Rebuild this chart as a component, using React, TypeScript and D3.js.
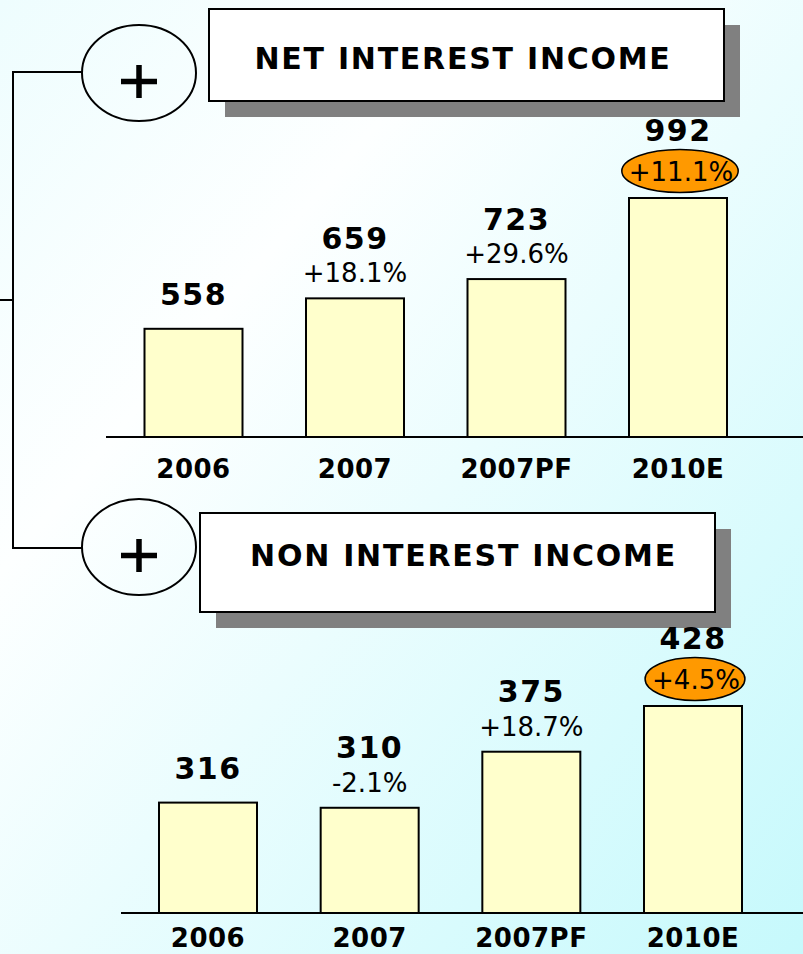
import React, { useEffect, useRef } from "react";
import * as d3 from "d3";

const categories = ["2006", "2007", "2007PF", "2010E"];
const netInterest = [558, 659, 723, 992];
const netGrowth = ["", "+18.1%", "+29.6%", "+11.1%"];
const nonInterest = [316, 310, 375, 428];
const nonGrowth = ["", "-2.1%", "+18.7%", "+4.5%"];
const titles = ["NET INTEREST INCOME", "NON INTEREST INCOME"];
const highlightIndex = 3;

const W = 803;
const H = 954;
const FONT = "'DejaVu Sans', Verdana, sans-serif";

type Panel = {
  title: string;
  values: number[];
  growth: string[];
  box: { x: number; y: number; w: number; h: number; textX: number; textY: number };
  circle: { cx: number; cy: number };
  axisY: number;
  axisX0: number;
  catY: number;
  xRange: [number, number];
  yDomain: [number, number];
  yTop: number;
};

const panels: Panel[] = [
  {
    title: titles[0],
    values: netInterest,
    growth: netGrowth,
    box: { x: 209, y: 9, w: 515, h: 92, textX: 463, textY: 69 },
    circle: { cx: 139, cy: 73 },
    axisY: 437,
    axisX0: 106,
    catY: 477.5,
    xRange: [193.5, 678],
    yDomain: [199, 992],
    yTop: 198,
  },
  {
    title: titles[1],
    values: nonInterest,
    growth: nonGrowth,
    box: { x: 200, y: 513, w: 515, h: 99, textX: 463.5, textY: 566 },
    circle: { cx: 139, cy: 547 },
    axisY: 913,
    axisX0: 121,
    catY: 947,
    xRange: [208, 693],
    yDomain: [188, 428],
    yTop: 706,
  },
];

export default function App() {
  const ref = useRef<SVGSVGElement | null>(null);

  useEffect(() => {
    const svg = d3.select(ref.current);
    svg.selectAll("*").remove();

    const defs = svg.append("defs");
    const grad = defs
      .append("linearGradient")
      .attr("id", "bg")
      .attr("x1", "0")
      .attr("y1", "0")
      .attr("x2", "1")
      .attr("y2", "1");
    grad.append("stop").attr("offset", "0").attr("stop-color", "#eefdfe");
    grad.append("stop").attr("offset", "0.3").attr("stop-color", "#fdffff");
    grad.append("stop").attr("offset", "1").attr("stop-color", "#c6f9fc");

    svg.append("rect").attr("width", W).attr("height", H).attr("fill", "url(#bg)");

    // bracket connector
    const bx = 13;
    const yTopC = panels[0].circle.cy - 1;
    const yBotC = panels[1].circle.cy + 1;
    const bracket = d3.path();
    bracket.moveTo(panels[0].circle.cx - 57, yTopC);
    bracket.lineTo(bx, yTopC);
    bracket.lineTo(bx, yBotC);
    bracket.lineTo(panels[1].circle.cx - 57, yBotC);
    bracket.moveTo(0, 300);
    bracket.lineTo(bx, 300);
    svg
      .append("path")
      .attr("d", bracket.toString())
      .attr("fill", "none")
      .attr("stroke", "#000")
      .attr("stroke-width", 2);

    panels.forEach((p) => {
      const g = svg.append("g");

      // circle with plus
      g.append("ellipse")
        .attr("cx", p.circle.cx)
        .attr("cy", p.circle.cy)
        .attr("rx", 57)
        .attr("ry", 48)
        .attr("fill", "none")
        .attr("stroke", "#000")
        .attr("stroke-width", 2);
      const pcx = p.circle.cx;
      const pcy = p.circle.cy + 8.5;
      g.append("path")
        .attr("d", `M${pcx - 18},${pcy}H${pcx + 18}M${pcx},${pcy - 16.5}V${pcy + 16.5}`)
        .attr("stroke", "#000")
        .attr("stroke-width", 5.5);

      // title box with shadow
      g.append("rect")
        .attr("x", p.box.x + 16)
        .attr("y", p.box.y + 16)
        .attr("width", p.box.w)
        .attr("height", p.box.h)
        .attr("fill", "#808080");
      g.append("rect")
        .attr("x", p.box.x)
        .attr("y", p.box.y)
        .attr("width", p.box.w)
        .attr("height", p.box.h)
        .attr("fill", "#fff")
        .attr("stroke", "#000")
        .attr("stroke-width", 2);
      g.append("text")
        .attr("x", p.box.textX)
        .attr("y", p.box.textY)
        .attr("text-anchor", "middle")
        .attr("font-family", FONT)
        .attr("font-weight", "bold")
        .attr("font-size", 30)
        .attr("letter-spacing", 1.75)
        .attr("fill", "#000")
        .text(p.title);

      const x = d3.scalePoint<string>().domain(categories).range(p.xRange);
      const y = d3.scaleLinear().domain(p.yDomain).range([p.axisY, p.yTop]);
      const bw = 98;

      // bars
      g.selectAll("rect.bar")
        .data(p.values)
        .enter()
        .append("rect")
        .attr("class", "bar")
        .attr("x", (_d, i) => (x(categories[i]) as number) - bw / 2)
        .attr("y", (d) => y(d))
        .attr("width", bw)
        .attr("height", (d) => p.axisY - y(d))
        .attr("fill", "#ffffcc")
        .attr("stroke", "#000")
        .attr("stroke-width", 2);

      // axis line
      g.append("line")
        .attr("x1", p.axisX0)
        .attr("x2", W)
        .attr("y1", p.axisY)
        .attr("y2", p.axisY)
        .attr("stroke", "#000")
        .attr("stroke-width", 2);

      // category labels
      g.selectAll("text.cat")
        .data(categories)
        .enter()
        .append("text")
        .attr("class", "cat")
        .attr("x", (d) => x(d) as number)
        .attr("y", p.catY)
        .attr("text-anchor", "middle")
        .attr("font-family", FONT)
        .attr("font-weight", "bold")
        .attr("font-size", 26)
        .attr("letter-spacing", 0.5)
        .attr("fill", "#000")
        .text((d) => d);

      // value + growth labels
      p.values.forEach((v, i) => {
        const cx = x(categories[i]) as number;
        const top = y(v);
        const gr = p.growth[i];
        let valueY: number;
        if (!gr) {
          valueY = top - 24;
        } else if (i === highlightIndex) {
          const ecy = top - 27;
          const t = g
            .append("text")
            .attr("x", cx + 3)
            .attr("y", ecy + 9.5)
            .attr("text-anchor", "middle")
            .attr("font-family", FONT)
            .attr("font-size", 26)
            .attr("fill", "#000")
            .text(gr);
          const tw = (t.node() as SVGTextElement).getComputedTextLength();
          g.insert("ellipse", () => t.node() as any)
            .attr("cx", cx + 2)
            .attr("cy", ecy)
            .attr("rx", tw / 2 + 6)
            .attr("ry", 21.5)
            .attr("fill", "#ff9900")
            .attr("stroke", "#000")
            .attr("stroke-width", 1.5);
          valueY = ecy - 30;
        } else {
          const py = top - 16;
          g.append("text")
            .attr("x", cx)
            .attr("y", py)
            .attr("text-anchor", "middle")
            .attr("font-family", FONT)
            .attr("font-size", 26)
            .attr("fill", "#000")
            .text(gr);
          valueY = py - 33.5;
        }
        g.append("text")
          .attr("x", cx)
          .attr("y", valueY)
          .attr("text-anchor", "middle")
          .attr("font-family", FONT)
          .attr("font-weight", "bold")
          .attr("font-size", 30)
          .attr("letter-spacing", 1.5)
          .attr("fill", "#000")
          .text(String(v));
      });
    });
  }, []);

  return (
    <svg
      ref={ref}
      width={W}
      height={H}
      style={{ position: "absolute", left: 0, top: 0, display: "block" }}
    />
  );
}
